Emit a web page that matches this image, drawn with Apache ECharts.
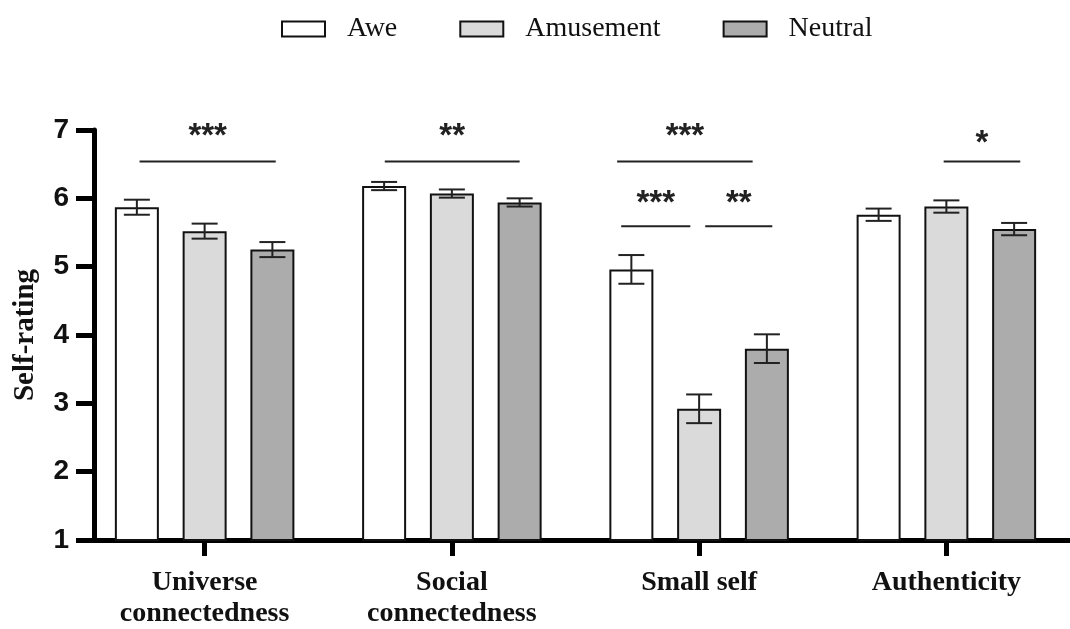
<!DOCTYPE html>
<html><head><meta charset="utf-8">
<script src="https://cdn.jsdelivr.net/npm/echarts@6/dist/echarts.min.js"></script>
<style>html,body{margin:0;padding:0;background:#fff}#c{width:1070px;height:629px}</style>
</head><body><div id="c"></div>
<script>
const categories = ['Universe\nconnectedness', 'Social\nconnectedness', 'Small self', 'Authenticity'];
const seriesNames = ['Awe', 'Amusement', 'Neutral'];
const aweMean = [5.87, 6.18, 4.96, 5.76];
const aweSem = [0.11, 0.06, 0.21, 0.09];
const amusementMean = [5.52, 6.07, 2.92, 5.88];
const amusementSem = [0.11, 0.06, 0.21, 0.09];
const neutralMean = [5.25, 5.94, 3.80, 5.55];
const neutralSem = [0.11, 0.06, 0.21, 0.09];
const yTicks = [1, 2, 3, 4, 5, 6, 7];
// significance brackets: category, start/end in bar slots (-1 Awe, 0 Amusement, 1 Neutral), line value, star value, text
const sigCategory = [0, 1, 2, 2, 2, 3];
const sigFrom = [-0.96, -0.99, -1.21, -1.15, 0.09, -0.04];
const sigTo = [1.05, 1.0, 0.79, -0.13, 1.08, 1.09];
const sigLineY = [6.54, 6.54, 6.54, 5.59, 5.59, 6.54];
const sigStarY = [6.98, 6.98, 6.98, 6.01, 6.01, 6.88];
const sigLabel = ['***', '**', '***', '***', '**', '*'];

const BAR_W = 44, BAR_GAP = 0.54;
const BAR_STEP = BAR_W * (1 + BAR_GAP);
const fills = ['#ffffff', '#dadada', '#acacac'];
const means = [aweMean, amusementMean, neutralMean];
const sems = [aweSem, amusementSem, neutralSem];

const chart = echarts.init(document.getElementById('c'));

const series = [];
seriesNames.forEach((n, i) => {
  series.push({
    name: n, type: 'bar', data: means[i], barWidth: BAR_W, barGap: (BAR_GAP * 100) + '%',
    itemStyle: { color: fills[i], borderColor: '#111', borderWidth: 2 }, z: 2
  });
});
seriesNames.forEach((n, i) => {
  const slot = i - 1;
  series.push({
    type: 'custom', name: n + ' SEM', z: 5, silent: true,
    encode: { x: 0, y: 1 },
    data: means[i].map((m, k) => [k, m, sems[i][k]]),
    renderItem: function (params, api) {
      const hi = api.coord([api.value(0), api.value(1) + api.value(2)]);
      const lo = api.coord([api.value(0), api.value(1) - api.value(2)]);
      const x = hi[0] + slot * BAR_STEP;
      const cw = 13;
      const st = { stroke: '#222', lineWidth: 2 };
      return { type: 'group', children: [
        { type: 'line', shape: { x1: x, y1: hi[1], x2: x, y2: lo[1] }, style: st },
        { type: 'line', shape: { x1: x - cw, y1: hi[1], x2: x + cw, y2: hi[1] }, style: st },
        { type: 'line', shape: { x1: x - cw, y1: lo[1], x2: x + cw, y2: lo[1] }, style: st }
      ] };
    }
  });
});
series.push({
  type: 'custom', name: 'sig', z: 6, silent: true,
  encode: { x: 0, y: 3 },
  data: sigCategory.map((c, k) => [c, sigFrom[k], sigTo[k], sigLineY[k], sigStarY[k], k]),
  renderItem: function (params, api) {
    const p = api.coord([api.value(0), api.value(3)]);
    const s = api.coord([api.value(0), api.value(4)]);
    const x1 = p[0] + api.value(1) * BAR_STEP;
    const x2 = p[0] + api.value(2) * BAR_STEP;
    return { type: 'group', children: [
      { type: 'line', shape: { x1: x1, y1: p[1], x2: x2, y2: p[1] }, style: { stroke: '#222', lineWidth: 2 } },
      { type: 'text', x: (x1 + x2) / 2, y: s[1] + 6,
        style: { text: sigLabel[api.value(5)], fill: '#222', font: 'bold 33px "Liberation Sans"', align: 'center', verticalAlign: 'middle' } }
    ] };
  }
});

chart.setOption({
  animation: false,
  backgroundColor: '#fff',
  legend: {
    data: seriesNames, top: 10, left: 276, icon: 'rect', itemWidth: 43, itemHeight: 15, itemGap: 62,
    textStyle: { fontFamily: 'Liberation Serif', fontSize: 28, color: '#111', padding: [0, 0, 0, 17] }
  },
  grid: { left: 81, right: -2, top: 130, bottom: 88, containLabel: false },
  xAxis: {
    type: 'category', data: categories,
    axisLine: { lineStyle: { color: '#000', width: 5 } },
    axisTick: { show: true, alignWithLabel: true, length: 16, lineStyle: { color: '#000', width: 5 } },
    axisLabel: { interval: 0, margin: 27, fontFamily: 'Liberation Serif', fontWeight: 'bold', fontSize: 28, lineHeight: 31, color: '#111' }
  },
  yAxis: {
    type: 'value', min: yTicks[0], max: yTicks[yTicks.length - 1], interval: 1, offset: -13,
    name: 'Self-rating', nameLocation: 'middle', nameGap: 54,
    nameTextStyle: { fontFamily: 'Liberation Serif', fontWeight: 'bold', fontSize: 29, color: '#111' },
    axisLine: { show: true, lineStyle: { color: '#000', width: 5 } },
    axisTick: { show: true, length: 18, lineStyle: { color: '#000', width: 5 } },
    axisLabel: { margin: 25, fontFamily: 'Liberation Sans', fontWeight: 'bold', fontSize: 28, color: '#111' },
    splitLine: { show: false }
  },
  series: series
});
</script></body></html>
